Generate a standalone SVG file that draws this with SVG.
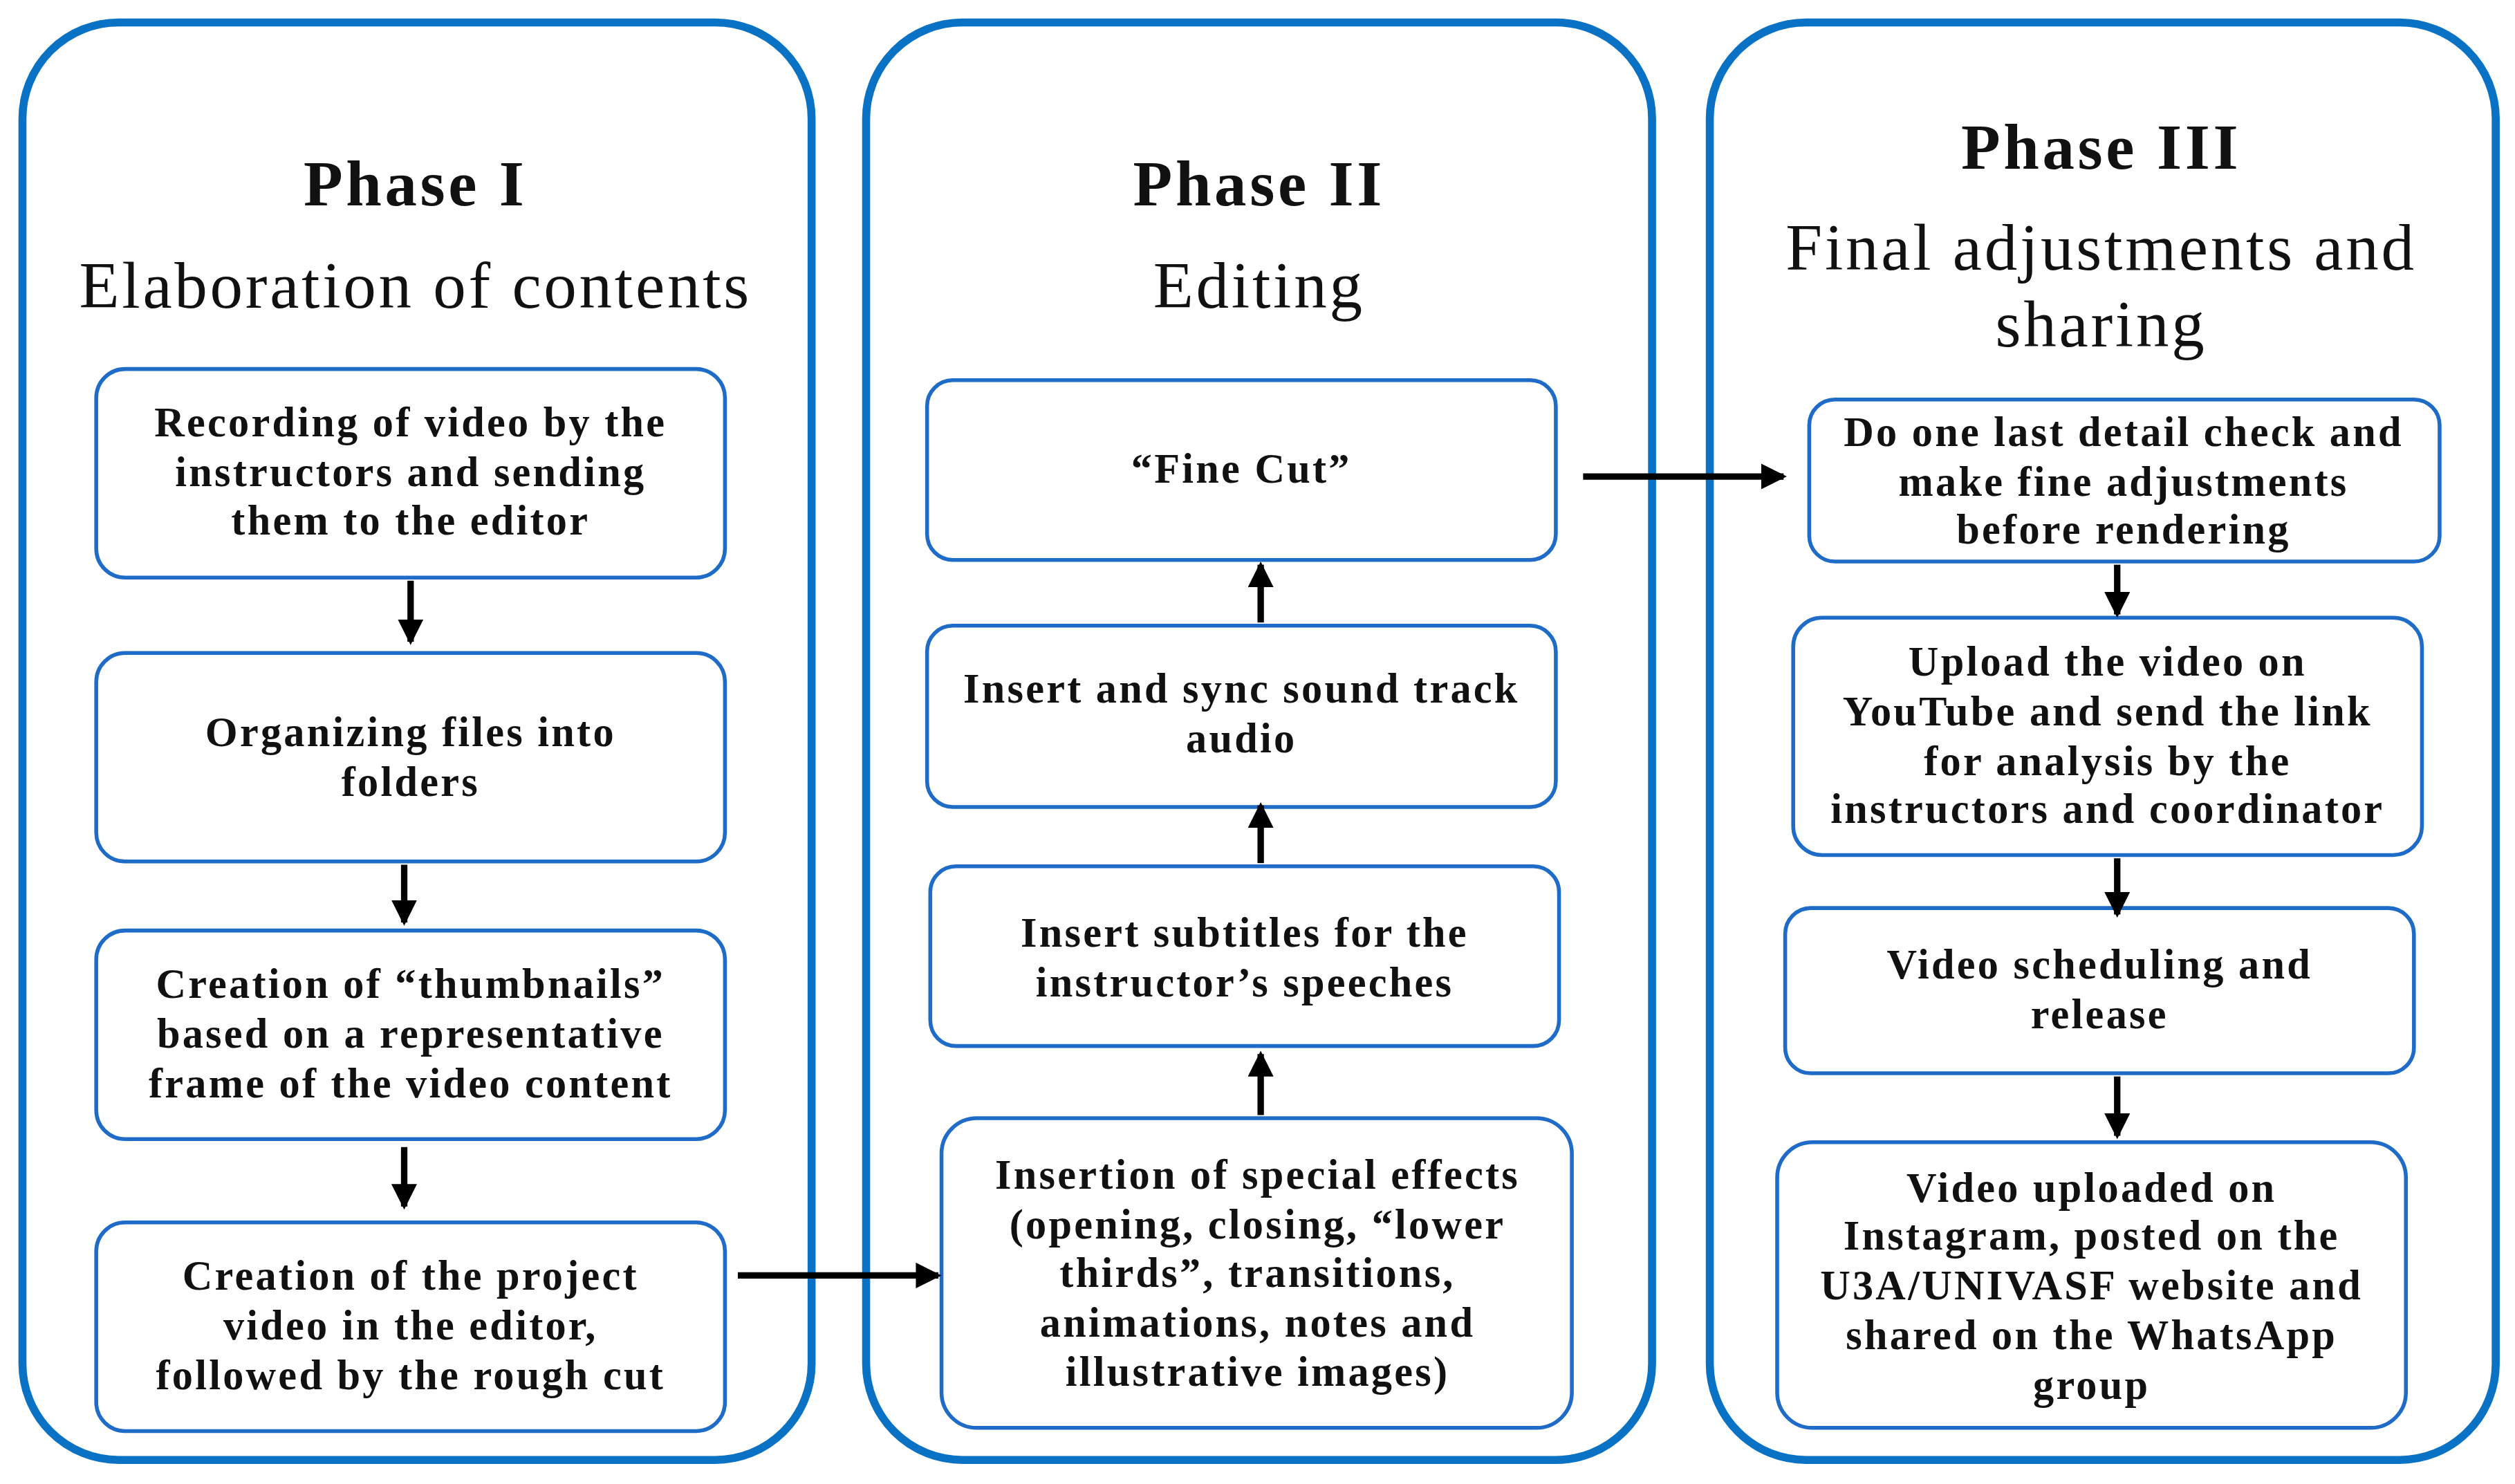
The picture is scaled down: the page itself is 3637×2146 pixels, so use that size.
<svg xmlns="http://www.w3.org/2000/svg" width="3637" height="2146" viewBox="0 0 3637 2146">
<style>
.panel{fill:#fff;stroke:#0A72C4;stroke-width:5}
.box{fill:#fff;stroke:#1F6CC8;stroke-width:2.4}
.t{font-family:"Liberation Serif","DejaVu Serif",serif;font-weight:bold;font-size:26px;letter-spacing:1.4px;text-anchor:middle;fill:#111}
.h{font-family:"Liberation Serif","DejaVu Serif",serif;font-weight:bold;font-size:40px;letter-spacing:2px;text-anchor:middle;fill:#111}
.s{font-family:"Liberation Serif","DejaVu Serif",serif;font-size:41px;letter-spacing:1.6px;text-anchor:middle;fill:#111}
.c{stroke:#000;stroke-width:4;fill:none;marker-end:url(#a)}
</style>
<defs><marker id="a" markerUnits="userSpaceOnUse" markerWidth="20" markerHeight="20" refX="14" refY="8" orient="auto"><path d="M0,0 L16,8 L0,16 Z" fill="#000"/></marker></defs>
<rect width="3637" height="2146" fill="#fff"/>
<g transform="scale(2.3195,2.32)">
<g id="phase1">
<rect class="panel" x="14" y="14" width="492" height="896" rx="60"/>
<text class="h" x="259" y="128">Phase I</text>
<text class="s" x="259" y="192">Elaboration of contents</text>
</g>
<g id="phase2">
<rect class="panel" x="540" y="14" width="490" height="896" rx="60"/>
<text class="h" x="785" y="128">Phase II</text>
<text class="s" x="785" y="192">Editing</text>
</g>
<g id="phase3">
<rect class="panel" x="1066" y="14" width="490" height="896" rx="60"/>
<text class="h" x="1310" y="105">Phase III</text>
<text class="s" x="1310" y="168">Final adjustments and</text>
<text class="s" x="1310" y="216">sharing</text>
</g>
<g id="n1"><rect class="box" x="60" y="230" width="392" height="130" rx="18"/>
<text class="t" x="256" y="272">Recording of video by the</text><text class="t" x="256" y="303">instructors and sending</text><text class="t" x="256" y="333">them to the editor</text></g>
<g id="n2"><rect class="box" x="60" y="407" width="392" height="130" rx="18"/>
<text class="t" x="256" y="465">Organizing files into</text><text class="t" x="256" y="496">folders</text></g>
<g id="n3"><rect class="box" x="60" y="580" width="392" height="130" rx="18"/>
<text class="t" x="256" y="622">Creation of “thumbnails”</text><text class="t" x="256" y="653">based on a representative</text><text class="t" x="256" y="684">frame of the video content</text></g>
<g id="n4"><rect class="box" x="60" y="762" width="392" height="130" rx="18"/>
<text class="t" x="256" y="804">Creation of the project</text><text class="t" x="256" y="835">video in the editor,</text><text class="t" x="256" y="866">followed by the rough cut</text></g>
<g id="n5"><rect class="box" x="578" y="237" width="392" height="112" rx="16"/>
<text class="t" x="774" y="301">“Fine Cut”</text></g>
<g id="n6"><rect class="box" x="578" y="390" width="392" height="113" rx="16"/>
<text class="t" x="774" y="438">Insert and sync sound track</text><text class="t" x="774" y="469">audio</text></g>
<g id="n7"><rect class="box" x="580" y="540" width="392" height="112" rx="16"/>
<text class="t" x="776" y="590">Insert subtitles for the</text><text class="t" x="776" y="621">instructor’s speeches</text></g>
<g id="n8"><rect class="box" x="587" y="697" width="393" height="193" rx="22"/>
<text class="t" x="784" y="741">Insertion of special effects</text><text class="t" x="784" y="772">(opening, closing, “lower</text><text class="t" x="784" y="802">thirds”, transitions,</text><text class="t" x="784" y="833">animations, notes and</text><text class="t" x="784" y="864">illustrative images)</text></g>
<g id="n9"><rect class="box" x="1128" y="249" width="393" height="101" rx="16"/>
<text class="t" x="1324" y="278">Do one last detail check and</text><text class="t" x="1324" y="309">make fine adjustments</text><text class="t" x="1324" y="339">before rendering</text></g>
<g id="n10"><rect class="box" x="1118" y="385" width="392" height="148" rx="18"/>
<text class="t" x="1314" y="421">Upload the video on</text><text class="t" x="1314" y="452">YouTube and send the link</text><text class="t" x="1314" y="483">for analysis by the</text><text class="t" x="1314" y="513">instructors and coordinator</text></g>
<g id="n11"><rect class="box" x="1113" y="566" width="392" height="103" rx="16"/>
<text class="t" x="1309" y="610">Video scheduling and</text><text class="t" x="1309" y="641">release</text></g>
<g id="n12"><rect class="box" x="1108" y="712" width="392" height="178" rx="22"/>
<text class="t" x="1304" y="749">Video uploaded on</text><text class="t" x="1304" y="779">Instagram, posted on the</text><text class="t" x="1304" y="810">U3A/UNIVASF website and</text><text class="t" x="1304" y="841">shared on the WhatsApp</text><text class="t" x="1304" y="872">group</text></g>
<g id="connectors">
<line class="c" x1="256" y1="362" x2="256" y2="400"/>
<line class="c" x1="252" y1="539" x2="252" y2="575"/>
<line class="c" x1="252" y1="715" x2="252" y2="752"/>
<line class="c" x1="460" y1="795" x2="585" y2="795"/>
<line class="c" x1="786" y1="695" x2="786" y2="657"/>
<line class="c" x1="786" y1="538" x2="786" y2="502"/>
<line class="c" x1="786" y1="388" x2="786" y2="352"/>
<line class="c" x1="987" y1="297" x2="1112" y2="297"/>
<line class="c" x1="1320" y1="352" x2="1320" y2="383"/>
<line class="c" x1="1320" y1="535" x2="1320" y2="570"/>
<line class="c" x1="1320" y1="671" x2="1320" y2="708"/>
</g>
</g>
</svg>
